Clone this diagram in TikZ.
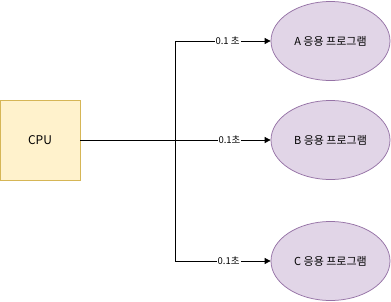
\documentclass[tikz,border=0pt]{standalone}
\usepackage{fontspec}
\newfontfamily\krfont{Noto Sans CJK KR}
\usetikzlibrary{arrows.meta, shapes.geometric}
\definecolor{cpufill}{HTML}{FFF2CC}
\definecolor{cpudraw}{HTML}{D6B656}
\definecolor{appfill}{HTML}{E1D5E7}
\definecolor{appdraw}{HTML}{9673A6}
\begin{document}
\begin{tikzpicture}[x=1pt, y=-1pt, line width=0.75pt,
    cpubox/.style={draw=cpudraw, fill=cpufill, minimum width=80pt, minimum height=80pt,
        inner sep=0pt, font=\krfont\fontsize{12}{14}\selectfont},
    app/.style={ellipse, draw=appdraw, fill=appfill, minimum width=119pt, minimum height=79pt,
        inner sep=0pt, font=\krfont\fontsize{11}{13}\selectfont},
    link/.style={-{Triangle[length=6pt, width=6pt]}},
    lbl/.style={fill=white, inner sep=1pt, font=\krfont\fontsize{9.5}{11}\selectfont}]
    \useasboundingbox (0,0) rectangle (391,301);

    % CPU
    \node[cpubox] (cpu) at (40,140) {CPU};

    % Applications
    \node[app] (appA) at (330.5,41) {A 응용 프로그램};
    \node[app] (appB) at (330.5,140) {B 응용 프로그램};
    \node[app] (appC) at (330.5,261) {C 응용 프로그램};

    % Links
    \coordinate (split) at (175,140);
    \draw (cpu.east) -- (split);
    \draw[link] (split) |- node[lbl, pos=0.775] {0.1 초} (appA);
    \draw[link] (split) -- node[lbl, pos=0.57] {0.1초} (appB);
    \draw[link] (split) |- node[lbl, pos=0.78] {0.1초} (appC);
\end{tikzpicture}
\end{document}
